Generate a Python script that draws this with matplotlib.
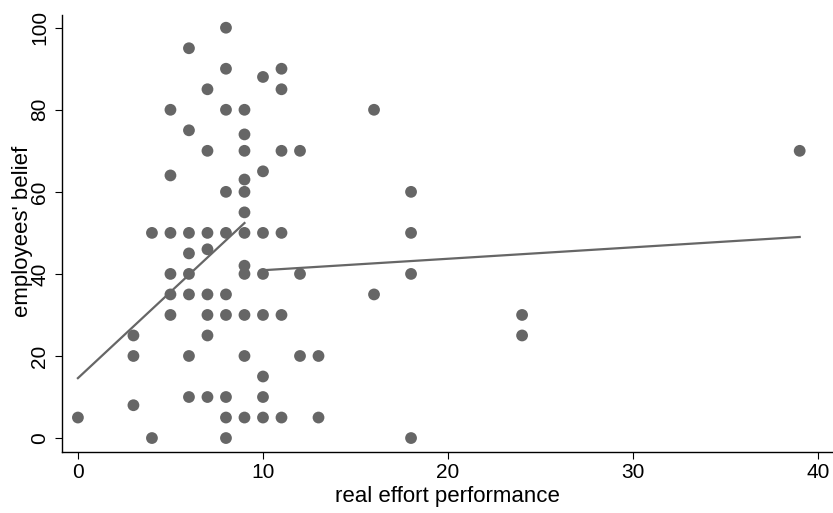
import matplotlib
matplotlib.use("Agg")
import matplotlib.pyplot as plt

plt.rcParams['font.family'] = ['Liberation Sans', 'DejaVu Sans']

# real effort performance (x) and employees' belief (y), one pair per dot
performance = [0,
               3, 3, 3,
               4, 4,
               5, 5, 5, 5, 5, 5,
               6, 6, 6, 6, 6, 6, 6, 6,
               7, 7, 7, 7, 7, 7, 7, 7,
               8, 8, 8, 8, 8, 8, 8, 8, 8, 8,
               9, 9, 9, 9, 9, 9, 9, 9, 9, 9, 9, 9,
               10, 10, 10, 10, 10, 10, 10, 10,
               11, 11, 11, 11, 11, 11,
               12, 12, 12,
               13, 13,
               16, 16,
               18, 18, 18, 18,
               24, 24,
               39]
belief = [5,
          25, 20, 8,
          50, 0,
          80, 64, 50, 40, 35, 30,
          95, 75, 50, 45, 40, 35, 20, 10,
          85, 70, 50, 46, 35, 30, 25, 10,
          100, 90, 80, 60, 50, 35, 30, 10, 5, 0,
          80, 74, 70, 63, 60, 55, 50, 42, 40, 30, 20, 5,
          88, 65, 50, 40, 30, 15, 10, 5,
          90, 85, 70, 50, 30, 5,
          70, 40, 20,
          20, 5,
          80, 35,
          60, 50, 40, 0,
          30, 25,
          70]

# fitted lines, below and above 10
fit_left_x = [0, 9]
fit_left_y = [14.6, 52.4]
fit_right_x = [10, 39]
fit_right_y = [40.9, 49.0]

x_ticks = [0, 10, 20, 30, 40]
y_ticks = [0, 20, 40, 60, 80, 100]

grey = '#666666'

fig = plt.figure(figsize=(8.33, 5.13), dpi=100)
ax = fig.add_axes([62 / 833, 1 - 452 / 513, 771 / 833, (452 - 15) / 513])

ax.scatter(performance, belief, s=72, color=grey, edgecolors='none', zorder=3)
ax.plot(fit_left_x, fit_left_y, color=grey, lw=1.6, zorder=2)
ax.plot(fit_right_x, fit_right_y, color=grey, lw=1.6, zorder=2)

ax.set_xlim(-0.86, 40.8)
ax.set_ylim(-3.4, 103.1)
ax.set_xticks(x_ticks)
ax.set_yticks(y_ticks)
ax.spines['top'].set_visible(False)
ax.spines['right'].set_visible(False)
for side in ['left', 'bottom']:
    ax.spines[side].set_linewidth(1.0)
    ax.spines[side].set_color('black')

ax.tick_params(axis='both', length=5, width=0.8, labelsize=15)
ax.tick_params(axis='x', pad=3)
ax.tick_params(axis='y', pad=4)
for lab in ax.get_yticklabels():
    lab.set_rotation(90)
    lab.set_va('center')

ax.set_xlabel('real effort performance', fontsize=16)
ax.xaxis.set_label_coords(0.5, -0.078)
ax.set_ylabel("employees' belief", fontsize=16)
ax.yaxis.set_label_coords(-0.037, 0.505)

fig.savefig('out.png', dpi=100)
